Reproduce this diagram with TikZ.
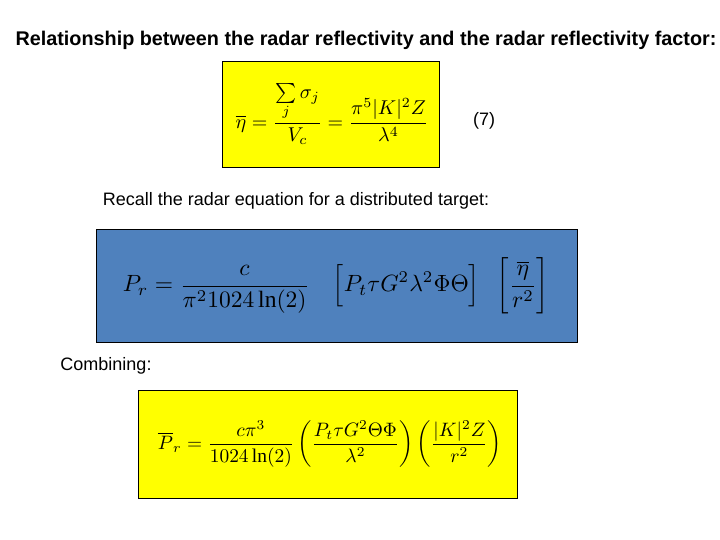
\documentclass[tikz,border=0pt]{standalone}
\usepackage{amsmath}
\usepackage{fontspec}
\setmainfont{Liberation Serif}
\newfontfamily\lsans{Liberation Sans}
\usepackage{graphicx}
\definecolor{ybox}{RGB}{255,255,0}
\definecolor{bbox}{RGB}{79,129,189}
\tikzset{eqbox/.style={draw=black, line width=0.8pt},
 lbl/.style={inner sep=0pt, font=\lsans\fontsize{18}{20}\selectfont}}
\begin{document}
\begin{tikzpicture}[x=1pt,y=-1pt]
\useasboundingbox[fill=white] (0,0) rectangle (720,540);
\node[lbl, font=\lsans\fontsize{19.8}{22}\selectfont\bfseries] (title) at (366,40) {Relationship between the radar reflectivity and the radar reflectivity factor:};
\draw[eqbox, fill=ybox] (222,61) rectangle (439,167);
\node[inner sep=0pt] (eq1) at (332,114) {\scalebox{2.0}{$\displaystyle \overline{\eta}=\frac{\sum\limits_j \sigma_j}{V_c}=\frac{\pi^5|K|^2Z}{\lambda^4}$}};
\node[lbl] (num) at (484,121) {(7)};
\node[lbl] (recall) at (296,201) {Recall the radar equation for a distributed target:};
\draw[eqbox, fill=bbox] (96,229) rectangle (577,342);
\node[inner sep=0pt] (eq2) at (336,286) {\scalebox{2.35}{$\displaystyle P_r=\frac{c}{\pi^2 1024\ln(2)}\quad\Bigl[P_t\tau G^2\lambda^2\Phi\Theta\Bigr]\;\;\left[\frac{\overline{\eta}}{r^2}\right]$}};
\node[lbl] (comb) at (106,366) {Combining:};
\draw[eqbox, fill=ybox] (138,390) rectangle (517,498);
\node[inner sep=0pt] (eq3) at (330,444) {\scalebox{1.94}{$\displaystyle \overline{P}_r=\frac{c\pi^3}{1024\ln(2)}\left(\frac{P_t\tau G^2\Theta\Phi}{\lambda^2}\right)\left(\frac{|K|^2Z}{r^2}\right)$}};
\end{tikzpicture}
\end{document}
